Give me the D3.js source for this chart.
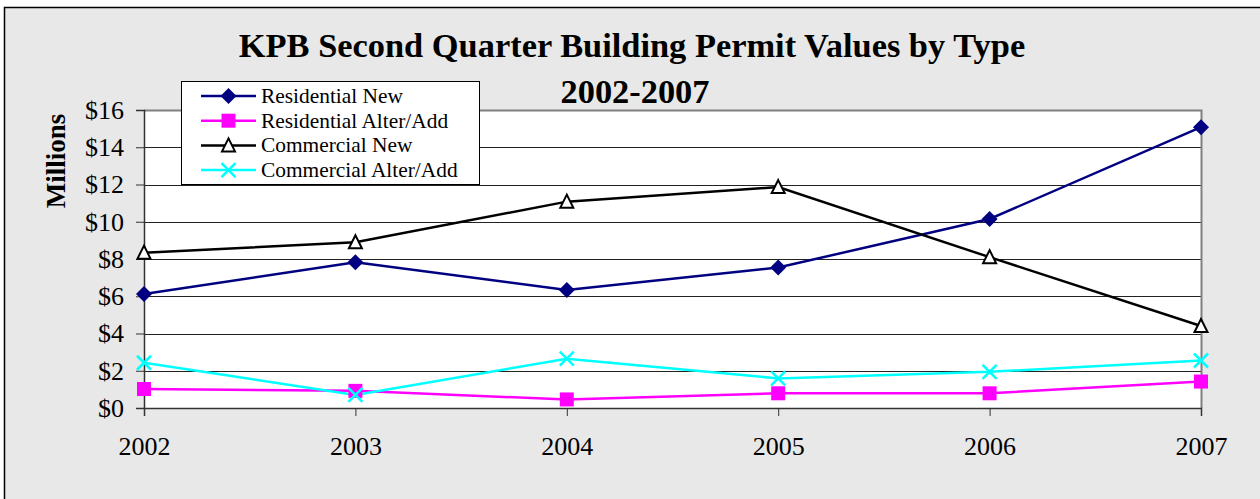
<!DOCTYPE html>
<html>
<head>
<meta charset="utf-8">
<script src="https://cdn.jsdelivr.net/npm/d3@7"></script>
<style>
  body { margin: 0; background: #ffffff; }
  text { font-family: "Liberation Serif", "Times New Roman", serif; }
</style>
</head>
<body>
<div id="chart"></div>
<script>
// Data (millions of dollars)
const years = ["2002", "2003", "2004", "2005", "2006", "2007"];
const residentialNew = [6.12, 7.83, 6.34, 7.54, 10.15, 15.08];
const residentialAlter = [1.02, 0.92, 0.46, 0.79, 0.79, 1.42];
const commercialNew = [8.34, 8.9, 11.08, 11.86, 8.1, 4.4];
const commercialAlter = [2.43, 0.7, 2.65, 1.59, 1.94, 2.55];
const yTicks = [0, 2, 4, 6, 8, 10, 12, 14, 16];

const seriesNames = ["Residential New", "Residential Alter/Add", "Commercial New", "Commercial Alter/Add"];
const seriesValues = [residentialNew, residentialAlter, commercialNew, commercialAlter];
const seriesColors = ["#000080", "#ff00ff", "#000000", "#00ffff"];
const seriesMarkers = ["diamond", "square", "triangle", "cross"];

const W = 1260, H = 499;
const plot = { left: 144, right: 1201, top: 110, bottom: 408 };

const svg = d3.select("#chart")
    .append("svg")
    .attr("width", W)
    .attr("height", H);

// outer chart frame
svg.append("rect")
    .attr("x", 4.5).attr("y", 7.5)
    .attr("width", W + 10).attr("height", H + 10)
    .attr("fill", "#e8e8e8")
    .attr("stroke", "#000")
    .attr("stroke-width", 1.5);

const x = d3.scalePoint()
    .domain(years)
    .range([plot.left, plot.right]);

const y = d3.scaleLinear()
    .domain([0, 16])
    .range([plot.bottom, plot.top]);

// plot area background
svg.append("rect")
    .attr("x", plot.left).attr("y", plot.top)
    .attr("width", plot.right - plot.left)
    .attr("height", plot.bottom - plot.top)
    .attr("fill", "#fff");

// gridlines
svg.append("g")
    .selectAll("line")
    .data(yTicks.filter(d => d > 0 && d < 16))
    .enter().append("line")
    .attr("x1", plot.left).attr("x2", plot.right)
    .attr("y1", d => Math.round(y(d)) + 0.5)
    .attr("y2", d => Math.round(y(d)) + 0.5)
    .attr("stroke", "#222")
    .attr("stroke-width", 1);

// plot border top and right
svg.append("path")
    .attr("d", `M${plot.left},${plot.top + 0.5}H${plot.right + 0.5}V${plot.bottom}`)
    .attr("fill", "none")
    .attr("stroke", "#808080")
    .attr("stroke-width", 2);

// y axis
const yAxis = svg.append("g")
    .attr("transform", `translate(${plot.left},0)`)
    .call(d3.axisLeft(y).tickValues(yTicks).tickSize(8).tickPadding(12).tickFormat(d => "$" + d));
yAxis.select(".domain").attr("stroke", "#333").attr("stroke-width", 1.5);
yAxis.selectAll(".tick line").attr("stroke", "#333");
yAxis.selectAll("text")
    .attr("fill", "#000")
    .style("font-family", "'Liberation Serif', 'Times New Roman', serif")
    .style("font-size", "26px");

// x axis
const xAxis = svg.append("g")
    .attr("transform", `translate(0,${plot.bottom})`)
    .call(d3.axisBottom(x).tickSize(8).tickPadding(21));
xAxis.select(".domain").attr("stroke", "#333").attr("stroke-width", 1.5);
xAxis.selectAll(".tick line").attr("stroke", "#333");
xAxis.selectAll("text")
    .attr("fill", "#000")
    .style("font-family", "'Liberation Serif', 'Times New Roman', serif")
    .style("font-size", "26px");

// y axis title
svg.append("text")
    .attr("transform", `translate(65,161) rotate(-90)`)
    .attr("text-anchor", "middle")
    .style("font-size", "27px")
    .style("font-weight", "bold")
    .text("Millions");

// chart title
svg.append("text")
    .attr("x", 632).attr("y", 57)
    .attr("text-anchor", "middle")
    .style("font-size", "34.4px")
    .style("font-weight", "bold")
    .text("KPB Second Quarter Building Permit Values by Type");
svg.append("text")
    .attr("x", 635).attr("y", 103)
    .attr("text-anchor", "middle")
    .style("font-size", "34.4px")
    .style("font-weight", "bold")
    .text("2002-2007");

// marker drawing
function drawMarker(g, type, color, cx, cy) {
    if (type === "diamond") {
        g.append("path")
            .attr("d", `M${cx},${cy - 8}L${cx + 8},${cy}L${cx},${cy + 8}L${cx - 8},${cy}Z`)
            .attr("fill", color);
    } else if (type === "square") {
        g.append("rect")
            .attr("x", cx - 7).attr("y", cy - 7)
            .attr("width", 14).attr("height", 14)
            .attr("fill", color);
    } else if (type === "triangle") {
        g.append("path")
            .attr("d", `M${cx},${cy - 7}L${cx + 6.5},${cy + 6}L${cx - 6.5},${cy + 6}Z`)
            .attr("fill", "#fff")
            .attr("stroke", color)
            .attr("stroke-width", 2);
    } else if (type === "cross") {
        g.append("path")
            .attr("d", `M${cx - 7},${cy - 7}L${cx + 7},${cy + 7}M${cx - 7},${cy + 7}L${cx + 7},${cy - 7}`)
            .attr("stroke", color)
            .attr("stroke-width", 2.5);
    }
}

const line = d3.line()
    .x((d, i) => x(years[i]))
    .y(d => y(d));

seriesValues.forEach((vals, s) => {
    svg.append("path")
        .datum(vals)
        .attr("d", line)
        .attr("fill", "none")
        .attr("stroke", seriesColors[s])
        .attr("stroke-width", 2.5);
});
seriesValues.forEach((vals, s) => {
    const g = svg.append("g");
    vals.forEach((v, i) => drawMarker(g, seriesMarkers[s], seriesColors[s], x(years[i]), y(v)));
});

// legend
const legend = svg.append("g");
legend.append("rect")
    .attr("x", 181.5).attr("y", 81.5)
    .attr("width", 298).attr("height", 103)
    .attr("fill", "#fff")
    .attr("stroke", "#000")
    .attr("stroke-width", 1);

seriesNames.forEach((name, s) => {
    const cy = 96 + s * 24.7;
    legend.append("line")
        .attr("x1", 201).attr("x2", 256)
        .attr("y1", cy).attr("y2", cy)
        .attr("stroke", seriesColors[s])
        .attr("stroke-width", 2.5);
    drawMarker(legend, seriesMarkers[s], seriesColors[s], 228.5, cy);
    legend.append("text")
        .attr("x", 261).attr("y", cy + 7)
        .style("font-size", "21.4px")
        .text(name);
});
</script>
</body>
</html>
